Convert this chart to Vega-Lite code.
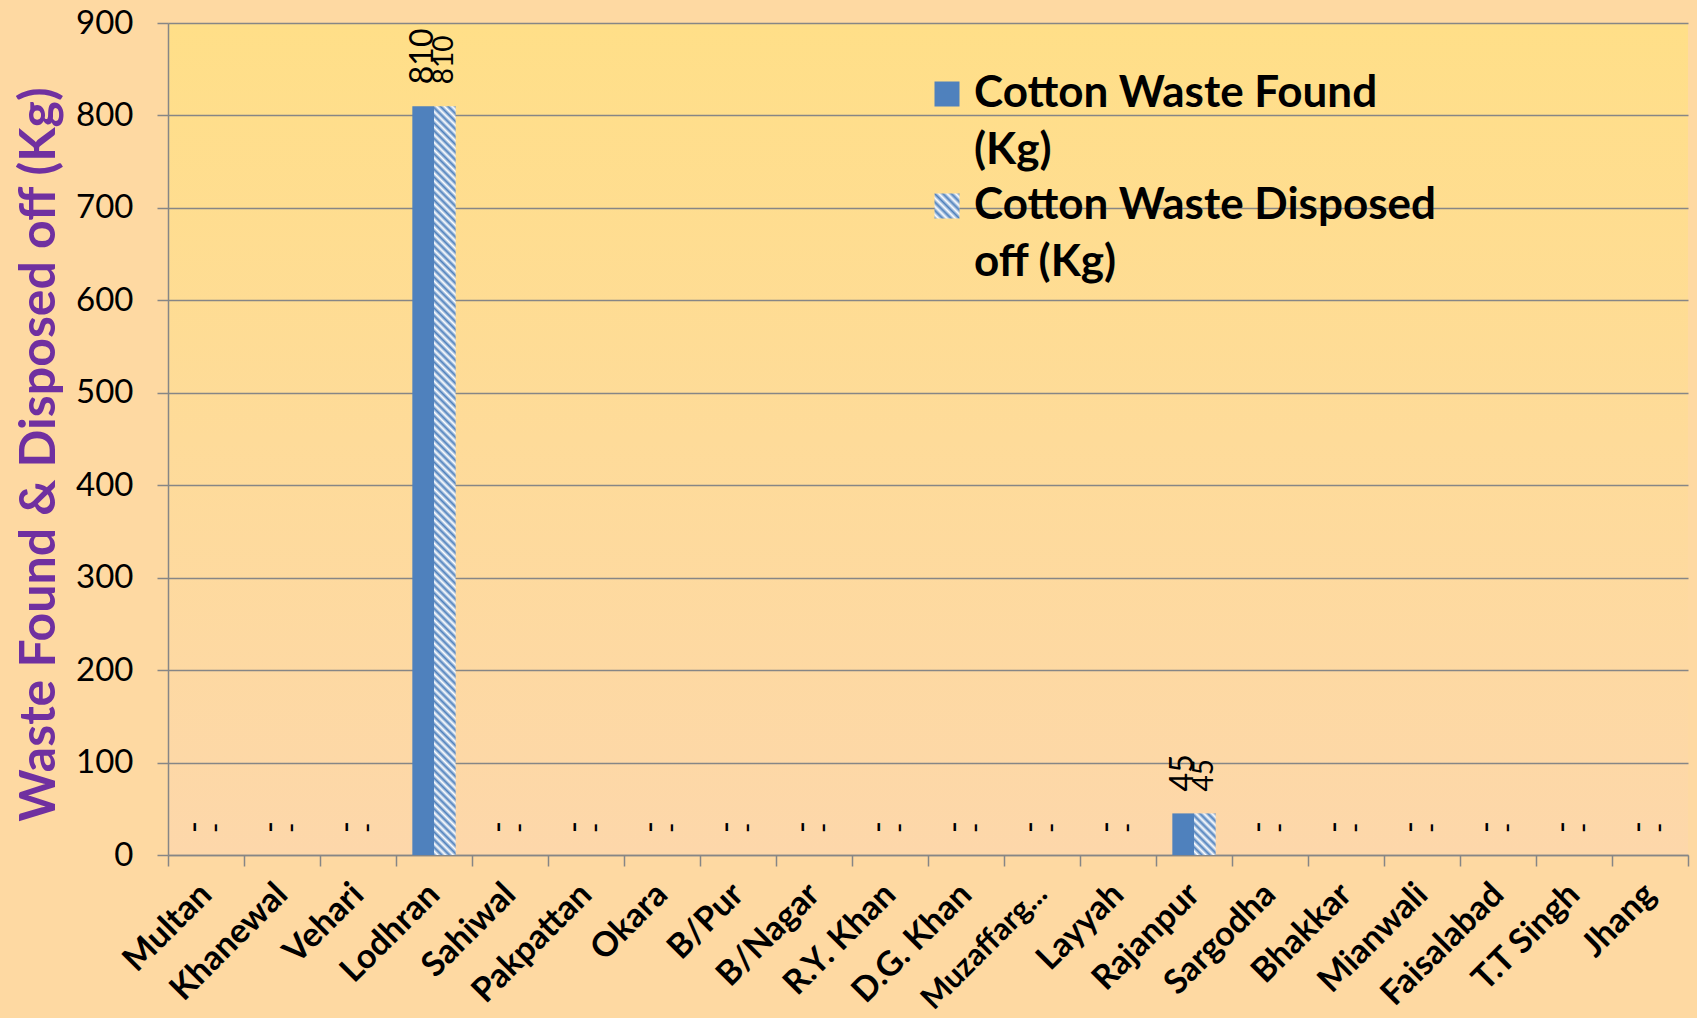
{
  "$schema": "https://vega.github.io/schema/vega-lite/v6.json",
  "width": 1520,
  "height": 832,
  "autosize": {"type": "none"},
  "padding": {"left": 168, "top": 23, "right": 9, "bottom": 163},
  "background": "#FED9A2",
  "view": {"stroke": null, "fill": {"gradient": "linear", "x1": 0, "y1": 0, "x2": 0, "y2": 1, "stops": [{"offset": 0, "color": "#FFDF88"}, {"offset": 1, "color": "#FDD7AA"}]}},
  "config": {"font": "Lato"},
  "data": {"values": [
    {"district": "Multan", "series": "Cotton Waste Found (Kg)", "value": 0},
    {"district": "Multan", "series": "Cotton Waste Disposed off (Kg)", "value": 0},
    {"district": "Khanewal", "series": "Cotton Waste Found (Kg)", "value": 0},
    {"district": "Khanewal", "series": "Cotton Waste Disposed off (Kg)", "value": 0},
    {"district": "Vehari", "series": "Cotton Waste Found (Kg)", "value": 0},
    {"district": "Vehari", "series": "Cotton Waste Disposed off (Kg)", "value": 0},
    {"district": "Lodhran", "series": "Cotton Waste Found (Kg)", "value": 810},
    {"district": "Lodhran", "series": "Cotton Waste Disposed off (Kg)", "value": 810},
    {"district": "Sahiwal", "series": "Cotton Waste Found (Kg)", "value": 0},
    {"district": "Sahiwal", "series": "Cotton Waste Disposed off (Kg)", "value": 0},
    {"district": "Pakpattan", "series": "Cotton Waste Found (Kg)", "value": 0},
    {"district": "Pakpattan", "series": "Cotton Waste Disposed off (Kg)", "value": 0},
    {"district": "Okara", "series": "Cotton Waste Found (Kg)", "value": 0},
    {"district": "Okara", "series": "Cotton Waste Disposed off (Kg)", "value": 0},
    {"district": "B/Pur", "series": "Cotton Waste Found (Kg)", "value": 0},
    {"district": "B/Pur", "series": "Cotton Waste Disposed off (Kg)", "value": 0},
    {"district": "B/Nagar", "series": "Cotton Waste Found (Kg)", "value": 0},
    {"district": "B/Nagar", "series": "Cotton Waste Disposed off (Kg)", "value": 0},
    {"district": "R.Y. Khan", "series": "Cotton Waste Found (Kg)", "value": 0},
    {"district": "R.Y. Khan", "series": "Cotton Waste Disposed off (Kg)", "value": 0},
    {"district": "D.G. Khan", "series": "Cotton Waste Found (Kg)", "value": 0},
    {"district": "D.G. Khan", "series": "Cotton Waste Disposed off (Kg)", "value": 0},
    {"district": "Muzaffarg...", "series": "Cotton Waste Found (Kg)", "value": 0},
    {"district": "Muzaffarg...", "series": "Cotton Waste Disposed off (Kg)", "value": 0},
    {"district": "Layyah", "series": "Cotton Waste Found (Kg)", "value": 0},
    {"district": "Layyah", "series": "Cotton Waste Disposed off (Kg)", "value": 0},
    {"district": "Rajanpur", "series": "Cotton Waste Found (Kg)", "value": 45},
    {"district": "Rajanpur", "series": "Cotton Waste Disposed off (Kg)", "value": 45},
    {"district": "Sargodha", "series": "Cotton Waste Found (Kg)", "value": 0},
    {"district": "Sargodha", "series": "Cotton Waste Disposed off (Kg)", "value": 0},
    {"district": "Bhakkar", "series": "Cotton Waste Found (Kg)", "value": 0},
    {"district": "Bhakkar", "series": "Cotton Waste Disposed off (Kg)", "value": 0},
    {"district": "Mianwali", "series": "Cotton Waste Found (Kg)", "value": 0},
    {"district": "Mianwali", "series": "Cotton Waste Disposed off (Kg)", "value": 0},
    {"district": "Faisalabad", "series": "Cotton Waste Found (Kg)", "value": 0},
    {"district": "Faisalabad", "series": "Cotton Waste Disposed off (Kg)", "value": 0},
    {"district": "T.T Singh", "series": "Cotton Waste Found (Kg)", "value": 0},
    {"district": "T.T Singh", "series": "Cotton Waste Disposed off (Kg)", "value": 0},
    {"district": "Jhang", "series": "Cotton Waste Found (Kg)", "value": 0},
    {"district": "Jhang", "series": "Cotton Waste Disposed off (Kg)", "value": 0}
  ]},
  "encoding": {
    "x": {
      "field": "district", "type": "nominal", "sort": null,
      "scale": {"paddingInner": 0, "paddingOuter": 0},
      "axis": {
        "title": null, "labelAngle": -45, "labelAlign": "right", "labelBaseline": "middle",
        "labelFont": "Lato", "labelFontWeight": "bold",
        "labelFontSize": {"condition": {"test": "datum.value == 'Muzaffarg...'", "value": 31}, "value": 34},
        "labelColor": "#000000",
        "labelPadding": 23, "labelLimit": 0, "labelOverlap": false,
        "tickSize": 11, "tickColor": "#868686", "tickWidth": 1.5, "tickBand": "extent",
        "domainColor": "#868686", "domainWidth": 1.5
      }
    },
    "xOffset": {
      "field": "series", "type": "nominal",
      "scale": {"domain": ["Cotton Waste Found (Kg)", "Cotton Waste Disposed off (Kg)"], "paddingInner": 0, "paddingOuter": 0.754}
    },
    "y": {
      "field": "value", "type": "quantitative",
      "scale": {"domain": [0, 900], "nice": false},
      "axis": {
        "values": [0, 100, 200, 300, 400, 500, 600, 700, 800, 900],
        "title": "Waste Found & Disposed off  (Kg)",
        "titleFont": "Lato", "titleFontSize": 50, "titleFontWeight": "bold", "titleColor": "#7030A0", "titlePadding": 11, "titleY": 431,
        "labelFont": "Lato", "labelFontSize": 33, "labelColor": "#000000", "labelPadding": 24,
        "tickSize": 11, "tickColor": "#868686", "tickWidth": 1.5,
        "domainColor": "#868686", "domainWidth": 1.5,
        "grid": true, "gridColor": "#868686", "gridWidth": 1.5
      }
    }
  },
  "layer": [
    {
      "mark": {"type": "bar", "strokeWidth": 0},
      "encoding": {
        "fill": {
          "condition": [
            {"test": "datum.series == 'Cotton Waste Disposed off (Kg)' && datum.value > 100", "value": {"gradient": "linear", "x1": 0, "y1": 1, "x2": 0.02978, "y2": -0.02813, "stops": [
{"offset":0,"color":"#4F81BD"},{"offset":0.005,"color":"#fff"},{"offset":0.01,"color":"#4F81BD"},{"offset":0.015,"color":"#fff"},{"offset":0.02,"color":"#4F81BD"},{"offset":0.025,"color":"#fff"},{"offset":0.03,"color":"#4F81BD"},{"offset":0.035,"color":"#fff"},{"offset":0.04,"color":"#4F81BD"},{"offset":0.045,"color":"#fff"},
{"offset":0.05,"color":"#4F81BD"},{"offset":0.055,"color":"#fff"},{"offset":0.06,"color":"#4F81BD"},{"offset":0.065,"color":"#fff"},{"offset":0.07,"color":"#4F81BD"},{"offset":0.075,"color":"#fff"},{"offset":0.08,"color":"#4F81BD"},{"offset":0.085,"color":"#fff"},{"offset":0.09,"color":"#4F81BD"},{"offset":0.095,"color":"#fff"},
{"offset":0.1,"color":"#4F81BD"},{"offset":0.105,"color":"#fff"},{"offset":0.11,"color":"#4F81BD"},{"offset":0.115,"color":"#fff"},{"offset":0.12,"color":"#4F81BD"},{"offset":0.125,"color":"#fff"},{"offset":0.13,"color":"#4F81BD"},{"offset":0.135,"color":"#fff"},{"offset":0.14,"color":"#4F81BD"},{"offset":0.145,"color":"#fff"},
{"offset":0.15,"color":"#4F81BD"},{"offset":0.155,"color":"#fff"},{"offset":0.16,"color":"#4F81BD"},{"offset":0.165,"color":"#fff"},{"offset":0.17,"color":"#4F81BD"},{"offset":0.175,"color":"#fff"},{"offset":0.18,"color":"#4F81BD"},{"offset":0.185,"color":"#fff"},{"offset":0.19,"color":"#4F81BD"},{"offset":0.195,"color":"#fff"},
{"offset":0.2,"color":"#4F81BD"},{"offset":0.205,"color":"#fff"},{"offset":0.21,"color":"#4F81BD"},{"offset":0.215,"color":"#fff"},{"offset":0.22,"color":"#4F81BD"},{"offset":0.225,"color":"#fff"},{"offset":0.23,"color":"#4F81BD"},{"offset":0.235,"color":"#fff"},{"offset":0.24,"color":"#4F81BD"},{"offset":0.245,"color":"#fff"},
{"offset":0.25,"color":"#4F81BD"},{"offset":0.255,"color":"#fff"},{"offset":0.26,"color":"#4F81BD"},{"offset":0.265,"color":"#fff"},{"offset":0.27,"color":"#4F81BD"},{"offset":0.275,"color":"#fff"},{"offset":0.28,"color":"#4F81BD"},{"offset":0.285,"color":"#fff"},{"offset":0.29,"color":"#4F81BD"},{"offset":0.295,"color":"#fff"},
{"offset":0.3,"color":"#4F81BD"},{"offset":0.305,"color":"#fff"},{"offset":0.31,"color":"#4F81BD"},{"offset":0.315,"color":"#fff"},{"offset":0.32,"color":"#4F81BD"},{"offset":0.325,"color":"#fff"},{"offset":0.33,"color":"#4F81BD"},{"offset":0.335,"color":"#fff"},{"offset":0.34,"color":"#4F81BD"},{"offset":0.345,"color":"#fff"},
{"offset":0.35,"color":"#4F81BD"},{"offset":0.355,"color":"#fff"},{"offset":0.36,"color":"#4F81BD"},{"offset":0.365,"color":"#fff"},{"offset":0.37,"color":"#4F81BD"},{"offset":0.375,"color":"#fff"},{"offset":0.38,"color":"#4F81BD"},{"offset":0.385,"color":"#fff"},{"offset":0.39,"color":"#4F81BD"},{"offset":0.395,"color":"#fff"},
{"offset":0.4,"color":"#4F81BD"},{"offset":0.405,"color":"#fff"},{"offset":0.41,"color":"#4F81BD"},{"offset":0.415,"color":"#fff"},{"offset":0.42,"color":"#4F81BD"},{"offset":0.425,"color":"#fff"},{"offset":0.43,"color":"#4F81BD"},{"offset":0.435,"color":"#fff"},{"offset":0.44,"color":"#4F81BD"},{"offset":0.445,"color":"#fff"},
{"offset":0.45,"color":"#4F81BD"},{"offset":0.455,"color":"#fff"},{"offset":0.46,"color":"#4F81BD"},{"offset":0.465,"color":"#fff"},{"offset":0.47,"color":"#4F81BD"},{"offset":0.475,"color":"#fff"},{"offset":0.48,"color":"#4F81BD"},{"offset":0.485,"color":"#fff"},{"offset":0.49,"color":"#4F81BD"},{"offset":0.495,"color":"#fff"},
{"offset":0.5,"color":"#4F81BD"},{"offset":0.505,"color":"#fff"},{"offset":0.51,"color":"#4F81BD"},{"offset":0.515,"color":"#fff"},{"offset":0.52,"color":"#4F81BD"},{"offset":0.525,"color":"#fff"},{"offset":0.53,"color":"#4F81BD"},{"offset":0.535,"color":"#fff"},{"offset":0.54,"color":"#4F81BD"},{"offset":0.545,"color":"#fff"},
{"offset":0.55,"color":"#4F81BD"},{"offset":0.555,"color":"#fff"},{"offset":0.56,"color":"#4F81BD"},{"offset":0.565,"color":"#fff"},{"offset":0.57,"color":"#4F81BD"},{"offset":0.575,"color":"#fff"},{"offset":0.58,"color":"#4F81BD"},{"offset":0.585,"color":"#fff"},{"offset":0.59,"color":"#4F81BD"},{"offset":0.595,"color":"#fff"},
{"offset":0.6,"color":"#4F81BD"},{"offset":0.605,"color":"#fff"},{"offset":0.61,"color":"#4F81BD"},{"offset":0.615,"color":"#fff"},{"offset":0.62,"color":"#4F81BD"},{"offset":0.625,"color":"#fff"},{"offset":0.63,"color":"#4F81BD"},{"offset":0.635,"color":"#fff"},{"offset":0.64,"color":"#4F81BD"},{"offset":0.645,"color":"#fff"},
{"offset":0.65,"color":"#4F81BD"},{"offset":0.655,"color":"#fff"},{"offset":0.66,"color":"#4F81BD"},{"offset":0.665,"color":"#fff"},{"offset":0.67,"color":"#4F81BD"},{"offset":0.675,"color":"#fff"},{"offset":0.68,"color":"#4F81BD"},{"offset":0.685,"color":"#fff"},{"offset":0.69,"color":"#4F81BD"},{"offset":0.695,"color":"#fff"},
{"offset":0.7,"color":"#4F81BD"},{"offset":0.705,"color":"#fff"},{"offset":0.71,"color":"#4F81BD"},{"offset":0.715,"color":"#fff"},{"offset":0.72,"color":"#4F81BD"},{"offset":0.725,"color":"#fff"},{"offset":0.73,"color":"#4F81BD"},{"offset":0.735,"color":"#fff"},{"offset":0.74,"color":"#4F81BD"},{"offset":0.745,"color":"#fff"},
{"offset":0.75,"color":"#4F81BD"},{"offset":0.755,"color":"#fff"},{"offset":0.76,"color":"#4F81BD"},{"offset":0.765,"color":"#fff"},{"offset":0.77,"color":"#4F81BD"},{"offset":0.775,"color":"#fff"},{"offset":0.78,"color":"#4F81BD"},{"offset":0.785,"color":"#fff"},{"offset":0.79,"color":"#4F81BD"},{"offset":0.795,"color":"#fff"},
{"offset":0.8,"color":"#4F81BD"},{"offset":0.805,"color":"#fff"},{"offset":0.81,"color":"#4F81BD"},{"offset":0.815,"color":"#fff"},{"offset":0.82,"color":"#4F81BD"},{"offset":0.825,"color":"#fff"},{"offset":0.83,"color":"#4F81BD"},{"offset":0.835,"color":"#fff"},{"offset":0.84,"color":"#4F81BD"},{"offset":0.845,"color":"#fff"},
{"offset":0.85,"color":"#4F81BD"},{"offset":0.855,"color":"#fff"},{"offset":0.86,"color":"#4F81BD"},{"offset":0.865,"color":"#fff"},{"offset":0.87,"color":"#4F81BD"},{"offset":0.875,"color":"#fff"},{"offset":0.88,"color":"#4F81BD"},{"offset":0.885,"color":"#fff"},{"offset":0.89,"color":"#4F81BD"},{"offset":0.895,"color":"#fff"},
{"offset":0.9,"color":"#4F81BD"},{"offset":0.905,"color":"#fff"},{"offset":0.91,"color":"#4F81BD"},{"offset":0.915,"color":"#fff"},{"offset":0.92,"color":"#4F81BD"},{"offset":0.925,"color":"#fff"},{"offset":0.93,"color":"#4F81BD"},{"offset":0.935,"color":"#fff"},{"offset":0.94,"color":"#4F81BD"},{"offset":0.945,"color":"#fff"},
{"offset":0.95,"color":"#4F81BD"},{"offset":0.955,"color":"#fff"},{"offset":0.96,"color":"#4F81BD"},{"offset":0.965,"color":"#fff"},{"offset":0.97,"color":"#4F81BD"},{"offset":0.975,"color":"#fff"},{"offset":0.98,"color":"#4F81BD"},{"offset":0.985,"color":"#fff"},{"offset":0.99,"color":"#4F81BD"},{"offset":0.995,"color":"#fff"},
{"offset":1,"color":"#4F81BD"}
            ]}},
            {"test": "datum.series == 'Cotton Waste Disposed off (Kg)' && datum.value > 0", "value": {"gradient": "linear", "x1": 0, "y1": 1, "x2": 0.6236, "y2": -0.1962, "stops": [
{"offset":0,"color":"#4F81BD"},{"offset":0.0625,"color":"#fff"},{"offset":0.125,"color":"#4F81BD"},{"offset":0.1875,"color":"#fff"},{"offset":0.25,"color":"#4F81BD"},{"offset":0.3125,"color":"#fff"},{"offset":0.375,"color":"#4F81BD"},{"offset":0.4375,"color":"#fff"},{"offset":0.5,"color":"#4F81BD"},{"offset":0.5625,"color":"#fff"},{"offset":0.625,"color":"#4F81BD"},{"offset":0.6875,"color":"#fff"},{"offset":0.75,"color":"#4F81BD"},{"offset":0.8125,"color":"#fff"},{"offset":0.875,"color":"#4F81BD"},{"offset":0.9375,"color":"#fff"},{"offset":1,"color":"#4F81BD"}
            ]}}
          ],
          "field": "series", "type": "nominal",
          "scale": {"domain": ["Cotton Waste Found (Kg)", "Cotton Waste Disposed off (Kg)"], "range": ["#4F81BD", {"expr": "{gradient: 'linear', x1: 0, y1: 1, x2: 1, y2: 0, stops: [{offset: 0, color: '#4F81BD'}, {offset: 0.0833, color: '#fff'}, {offset: 0.1667, color: '#4F81BD'}, {offset: 0.25, color: '#fff'}, {offset: 0.3333, color: '#4F81BD'}, {offset: 0.4167, color: '#fff'}, {offset: 0.5, color: '#4F81BD'}, {offset: 0.5833, color: '#fff'}, {offset: 0.6667, color: '#4F81BD'}, {offset: 0.75, color: '#fff'}, {offset: 0.8333, color: '#4F81BD'}, {offset: 0.9167, color: '#fff'}, {offset: 1, color: '#4F81BD'}]}"}]},
          "legend": {
            "title": null, "orient": "none", "legendX": 757, "legendY": 49,
            "labelFont": "Lato", "labelFontSize": 44, "labelFontWeight": "bold", "labelColor": "#000000", "labelLimit": 1000,
            "symbolType": "square", "symbolSize": 625, "symbolStrokeWidth": 0, "symbolOpacity": 1,
            "labelOffset": 5, "rowPadding": 11,
            "labelExpr": "datum.label == 'Cotton Waste Found (Kg)' ? ['Cotton Waste Found', '(Kg)'] : ['Cotton Waste Disposed', 'off (Kg)']",
            "encode": {
              "labels": {"update": {"lineHeight": {"value": 57}}}
            }
          }
        }
      }
    },
    {
      "mark": {"type": "text", "angle": 270, "align": "left", "baseline": "middle", "dx": 22, "font": "Lato", "color": "#000000"},
      "encoding": {
        "text": {"condition": {"test": "datum.value == 0", "value": "-"}, "field": "value", "type": "quantitative"},
        "size": {"condition": {"test": "datum.series == 'Cotton Waste Found (Kg)'", "value": 32}, "value": 28}
      }
    }
  ]
}
